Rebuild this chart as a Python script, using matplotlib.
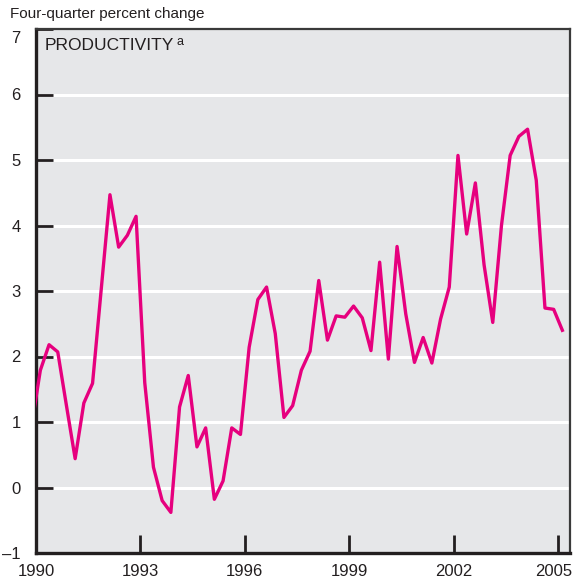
import numpy as np
import matplotlib
matplotlib.use("Agg")
import matplotlib.pyplot as plt
from matplotlib import font_manager
from matplotlib.transforms import ScaledTranslation

# Productivity, four-quarter percent change, quarterly 1989Q4 - 2005Q1
start_year = 1989.875
productivity = [0.95,
                1.79, 2.18, 2.07, 1.25, 0.44, 1.29, 1.59, 3.03,
                4.47, 3.67, 3.85, 4.14, 1.60, 0.31, -0.20, -0.38,
                1.23, 1.71, 0.62, 0.91, -0.18, 0.10, 0.91, 0.81,
                2.14, 2.87, 3.06, 2.35, 1.07, 1.25, 1.79, 2.08,
                3.16, 2.25, 2.62, 2.60, 2.77, 2.59, 2.09, 3.44,
                1.96, 3.68, 2.65, 1.91, 2.29, 1.90, 2.57, 3.06,
                5.07, 3.87, 4.65, 3.40, 2.52, 4.00, 5.07, 5.36,
                5.47, 4.69, 2.74, 2.72, 2.40]
x_ticks = [1990, 1993, 1996, 1999, 2002, 2005]
y_ticks = [-1, 0, 1, 2, 3, 4, 5, 6, 7]

t = start_year + 0.25 * np.arange(len(productivity))

# condensed face if one is installed
names = {f.name for f in font_manager.fontManager.ttflist}
if 'Liberation Sans Narrow' in names:
    narrow = dict(family='Liberation Sans Narrow', size=13.5)
else:
    narrow = dict(family='Liberation Sans', size=12)
dark = '#231f20'

fig = plt.figure(figsize=(5.75, 5.84), dpi=100)
ax = fig.add_axes([36/575, 1 - 553/584, 533.5/575, 524/584])
ax.set_facecolor('#e6e7e9')

for v in range(0, 7):
    ax.axhline(v, color='white', lw=2.2, zorder=1)

ax.plot(t, productivity, color='#e6007e', lw=2.4, zorder=3)

ax.set_xlim(1990, 2005.33)
ax.set_ylim(-1, 7)
ax.set_xticks(x_ticks)
ax.set_yticks(y_ticks)
ax.set_xticklabels([str(y) for y in x_ticks], **narrow)
ax.set_yticklabels([str(y).replace('-', '\u2013') for y in y_ticks], **narrow)
ax.tick_params(axis='y', direction='in', length=12, width=2, color=dark, pad=11, labelcolor=dark)
ax.tick_params(axis='x', direction='in', length=13, width=2, color=dark, pad=8, labelcolor=dark)

# the top label sits a bit below its tick
top = ax.get_yticklabels()[-1]
top.set_transform(top.get_transform() + ScaledTranslation(0, -6/72, fig.dpi_scale_trans))
# last year label pulled in so it stays on the page
last = ax.get_xticklabels()[-1]
last.set_transform(last.get_transform() + ScaledTranslation(-3/72, 0, fig.dpi_scale_trans))

for side in ['left', 'bottom']:
    ax.spines[side].set_linewidth(2.4)
    ax.spines[side].set_color(dark)
for side in ['top', 'right']:
    ax.spines[side].set_linewidth(1.6)
    ax.spines[side].set_color('#3a3a3a')

fig.text(10/575, 1 - 14/584, 'Four-quarter percent change', family=narrow['family'],
         size=11, color=dark, va='center', ha='left')

lbl = fig.text(45/575, 1 - 45/584, 'PRODUCTIVITY', family='Liberation Sans',
               size=12.5, color=dark, va='center', ha='left')
ax.annotate('a', xy=(1, 1), xycoords=lbl, xytext=(1.5, 1), textcoords='offset points',
            va='top', ha='left', size=9, color=dark, family='Liberation Sans')

fig.savefig('out.png', dpi=100)
